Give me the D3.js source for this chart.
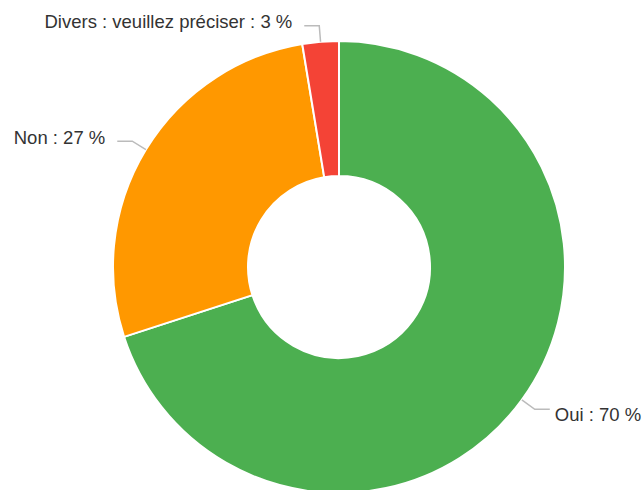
<!DOCTYPE html>
<html><head><meta charset="utf-8">
<script src="https://cdn.jsdelivr.net/npm/d3@7"></script>
<style>body{margin:0;background:#fff}svg{display:block}</style>
</head><body>
<script>
const categories = ["Oui", "Non", "Divers : veuillez préciser"];
const values = [70.0, 27.4, 2.6];
const colors = ["#4caf50", "#ff9800", "#f44336"];
const W = 644, H = 490, cx = 339, cy = 267, R = 226, r0 = 91;
const svg = d3.select("body").append("svg").attr("width", W).attr("height", H);
const g = svg.append("g").attr("transform", `translate(${cx},${cy})`);
const data = categories.map((c, i) => ({c, v: values[i], col: colors[i]}));
const total = d3.sum(values);
const pie = d3.pie().sort(null).value(d => d.v);
const arcs = pie(data);
const arc = d3.arc().innerRadius(r0).outerRadius(R);
g.selectAll("path.s").data(arcs).join("path").attr("class","s")
  .attr("d", arc).attr("fill", d => d.data.col).attr("stroke", "#fff").attr("stroke-width", 2);
arcs.forEach(a => {
  const m = (a.startAngle + a.endAngle) / 2;
  const p1 = [R * Math.sin(m), -R * Math.cos(m)];
  const p2 = [(R + 16) * Math.sin(m), -(R + 16) * Math.cos(m)];
  const right = Math.sin(m) > 0;
  const p3 = [p2[0] + (right ? 15 : -15), p2[1]];
  g.append("polyline").attr("points", [p1, p2, p3].map(p => p.join(",")).join(" "))
    .attr("fill", "none").attr("stroke", "#bbb").attr("stroke-width", 1.5);
  g.append("text").attr("x", p3[0] + (right ? 5 : -12)).attr("y", p3[1] + (right ? 5 : -4))
    .attr("dy", "0.35em").attr("text-anchor", right ? "start" : "end")
    .attr("font-family", "Liberation Sans, Arial, sans-serif").attr("font-size", 18.5)
    .attr("fill", "#333")
    .text(`${a.data.c} : ${Math.round(a.data.v / total * 100)} %`);
});
</script>
</body></html>
